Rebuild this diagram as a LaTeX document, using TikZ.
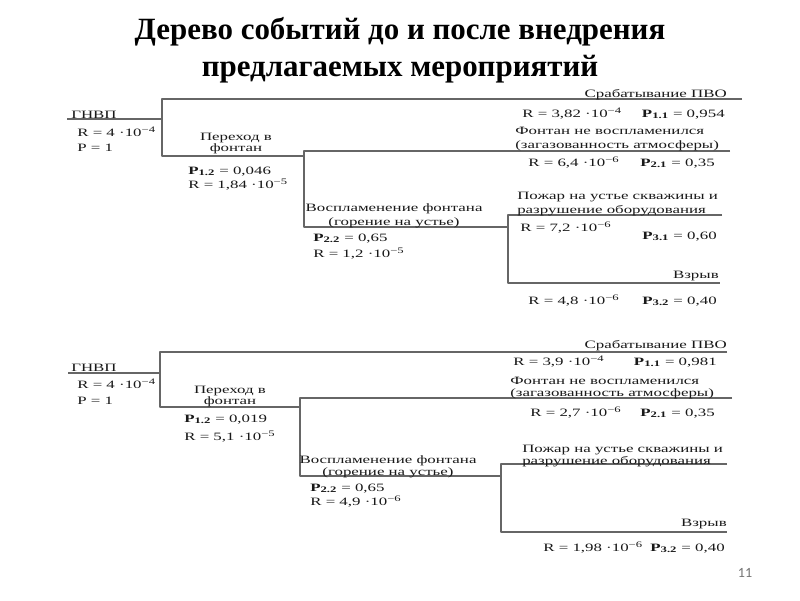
\documentclass[tikz,border=0pt]{standalone}
\usepackage{fontspec}
\setmainfont{Liberation Serif}
\newfontfamily\lbfont[FakeStretch=1.5]{Liberation Serif}
\newfontfamily\pgfont{Carlito}
\usetikzlibrary{calc}
\usetikzlibrary{positioning}

\newcommand\Rv[2]{R = #1 ·10\textsuperscript{−#2}}
\newcommand\Pv[2]{\textbf{P}\textsubscript{\textbf{#1}} = #2}

\begin{document}
\begin{tikzpicture}[x=0.025cm, y=-0.025cm, line join=round,
    lbl/.style={inner sep=0pt, text=black!90, font=\lbfont\fontsize{8}{9}\selectfont},
    branch/.style={draw=black!60, line width=0.8pt}]
  \useasboundingbox (0,0) rectangle (800,600);
  \fill[white] (0,0) rectangle (800,600);

  \node[align=center, inner sep=0pt, anchor=base, font=\bfseries\fontsize{22}{26}\selectfont] (title) at (400,76)
    {Дерево событий до и после внедрения\\предлагаемых мероприятий};

  % before
  \coordinate (a0) at (67,119);
  \coordinate (a1) at (162,119);
  \coordinate (a1u) at (162,99);
  \coordinate (a1d) at (162,156);
  \coordinate (a1e) at (742,99);
  \coordinate (a2u) at (304,151);
  \coordinate (a2d) at (304,227);
  \coordinate (a2e) at (730,151);
  \coordinate (a3u) at (508,215);
  \coordinate (a3d) at (508,283);
  \coordinate (a3e) at (722,215);
  \coordinate (a3f) at (720,283);
  \draw[branch] (a0) -- (a1);
  \draw[branch] (a1e) -- (a1u) -- (a1d) -- (a1d -| a2u);
  \draw[branch] (a2e) -- (a2u) -- (a2d) -- (a2d -| a3u);
  \draw[branch] (a3e) -- (a3u) -- (a3d) -- (a3f);

  \node[lbl, anchor=base west] (agnvp) at (71,118) {ГНВП};
  \node[lbl, anchor=mid west] (ar0) at (77,133) {\Rv{4}{4}};
  \node[lbl, anchor=mid west] (ap0) at (77,148) {P = 1};
  \node[lbl, align=center, anchor=mid] (aperekh) at (236,148) {Переход в\\[-1.5pt]фонтан};
  \node[lbl, anchor=mid west] (ap12) at (188,171) {\Pv{1.2}{0,046}};
  \node[lbl, anchor=mid west] (ar12) at (188,185) {\Rv{1,84}{5}};
  \node[lbl, anchor=base east] (apvo) at (727,97) {Срабатывание ПВО};
  \node[lbl, anchor=mid west] (ar11) at (522,114) {\Rv{3,82}{4}};
  \node[lbl, anchor=mid east] (ap11) at (725,114) {\Pv{1.1}{0,954}};
  \node[lbl, align=left, anchor=mid west] (afont) at (515,145) {Фонтан не воспламенился\\[1pt](загазованность атмосферы)};
  \node[lbl, anchor=mid west] (ar21) at (528,163) {\Rv{6,4}{6}};
  \node[lbl, anchor=mid east] (ap21) at (715,163) {\Pv{2.1}{0,35}};
  \node[lbl, align=center, anchor=mid] (avospl) at (394,222) {Воспламенение фонтана\\[1pt](горение на устье)};
  \node[lbl, anchor=mid west] (ap22) at (313,238) {\Pv{2.2}{0,65}};
  \node[lbl, anchor=mid west] (ar22) at (313,254) {\Rv{1,2}{5}};
  \node[lbl, align=left, anchor=mid west] (apozhar) at (517,210) {Пожар на устье скважины и\\[0.5pt]разрушение оборудования};
  \node[lbl, anchor=mid west] (ar31) at (520,228) {\Rv{7,2}{6}};
  \node[lbl, anchor=mid east] (ap31) at (717,236) {\Pv{3.1}{0,60}};
  \node[lbl, anchor=mid east] (avzryv) at (719,275) {Взрыв};
  \node[lbl, anchor=mid west] (ar32) at (528,301) {\Rv{4,8}{6}};
  \node[lbl, anchor=mid east] (ap32) at (717,301) {\Pv{3.2}{0,40}};

  % after
  \coordinate (b0) at (68,373);
  \coordinate (b1) at (160,373);
  \coordinate (b1u) at (160,352);
  \coordinate (b1d) at (160,407);
  \coordinate (b1e) at (727,352);
  \coordinate (b2u) at (300,398);
  \coordinate (b2d) at (300,476);
  \coordinate (b2e) at (732,398);
  \coordinate (b3u) at (501,464);
  \coordinate (b3d) at (501,532);
  \coordinate (b3e) at (727,464);
  \coordinate (b3f) at (727,532);
  \draw[branch] (b0) -- (b1);
  \draw[branch] (b1e) -- (b1u) -- (b1d) -- (b1d -| b2u);
  \draw[branch] (b2e) -- (b2u) -- (b2d) -- (b2d -| b3u);
  \draw[branch] (b3e) -- (b3u) -- (b3d) -- (b3f);

  \node[lbl, anchor=base west] (bgnvp) at (71,371) {ГНВП};
  \node[lbl, anchor=mid west] (br0) at (77,385) {\Rv{4}{4}};
  \node[lbl, anchor=mid west] (bp0) at (77,401) {P = 1};
  \node[lbl, align=center, anchor=mid] (bperekh) at (230,401) {Переход в\\[-1.5pt]фонтан};
  \node[lbl, anchor=mid west] (bp12) at (184,419) {\Pv{1.2}{0,019}};
  \node[lbl, anchor=mid west] (br12) at (184,437) {\Rv{5,1}{5}};
  \node[lbl, anchor=base east] (bpvo) at (727,348) {Срабатывание ПВО};
  \node[lbl, anchor=mid west] (br11) at (513,362) {\Rv{3,9}{4}};
  \node[lbl, anchor=mid east] (bp11) at (717,362) {\Pv{1.1}{0,981}};
  \node[lbl, align=left, anchor=mid west] (bfont) at (510,393) {Фонтан не воспламенился\\[-1pt](загазованность атмосферы)};
  \node[lbl, anchor=mid west] (br21) at (530,413) {\Rv{2,7}{6}};
  \node[lbl, anchor=mid east] (bp21) at (715,413) {\Pv{2.1}{0,35}};
  \node[lbl, align=center, anchor=mid] (bvospl) at (388,472) {Воспламенение фонтана\\[-0.5pt](горение на устье)};
  \node[lbl, anchor=mid west] (bp22) at (310,488) {\Pv{2.2}{0,65}};
  \node[lbl, anchor=mid west] (br22) at (310,502) {\Rv{4,9}{6}};
  \node[lbl, align=left, anchor=mid west] (bpozhar) at (522,461) {Пожар на устье скважины и\\[-1pt]разрушение оборудования};
  \node[lbl, anchor=mid east] (bvzryv) at (727,523) {Взрыв};
  \node[lbl, anchor=mid west] (br32) at (543,548) {\Rv{1,98}{6}};
  \node[lbl, anchor=mid east] (bp32) at (725,548) {\Pv{3.2}{0,40}};

  \node[inner sep=0pt, text=black!55, font=\pgfont\fontsize{10}{12}\selectfont] (pnum) at (745,573) {11};
\end{tikzpicture}
\end{document}
